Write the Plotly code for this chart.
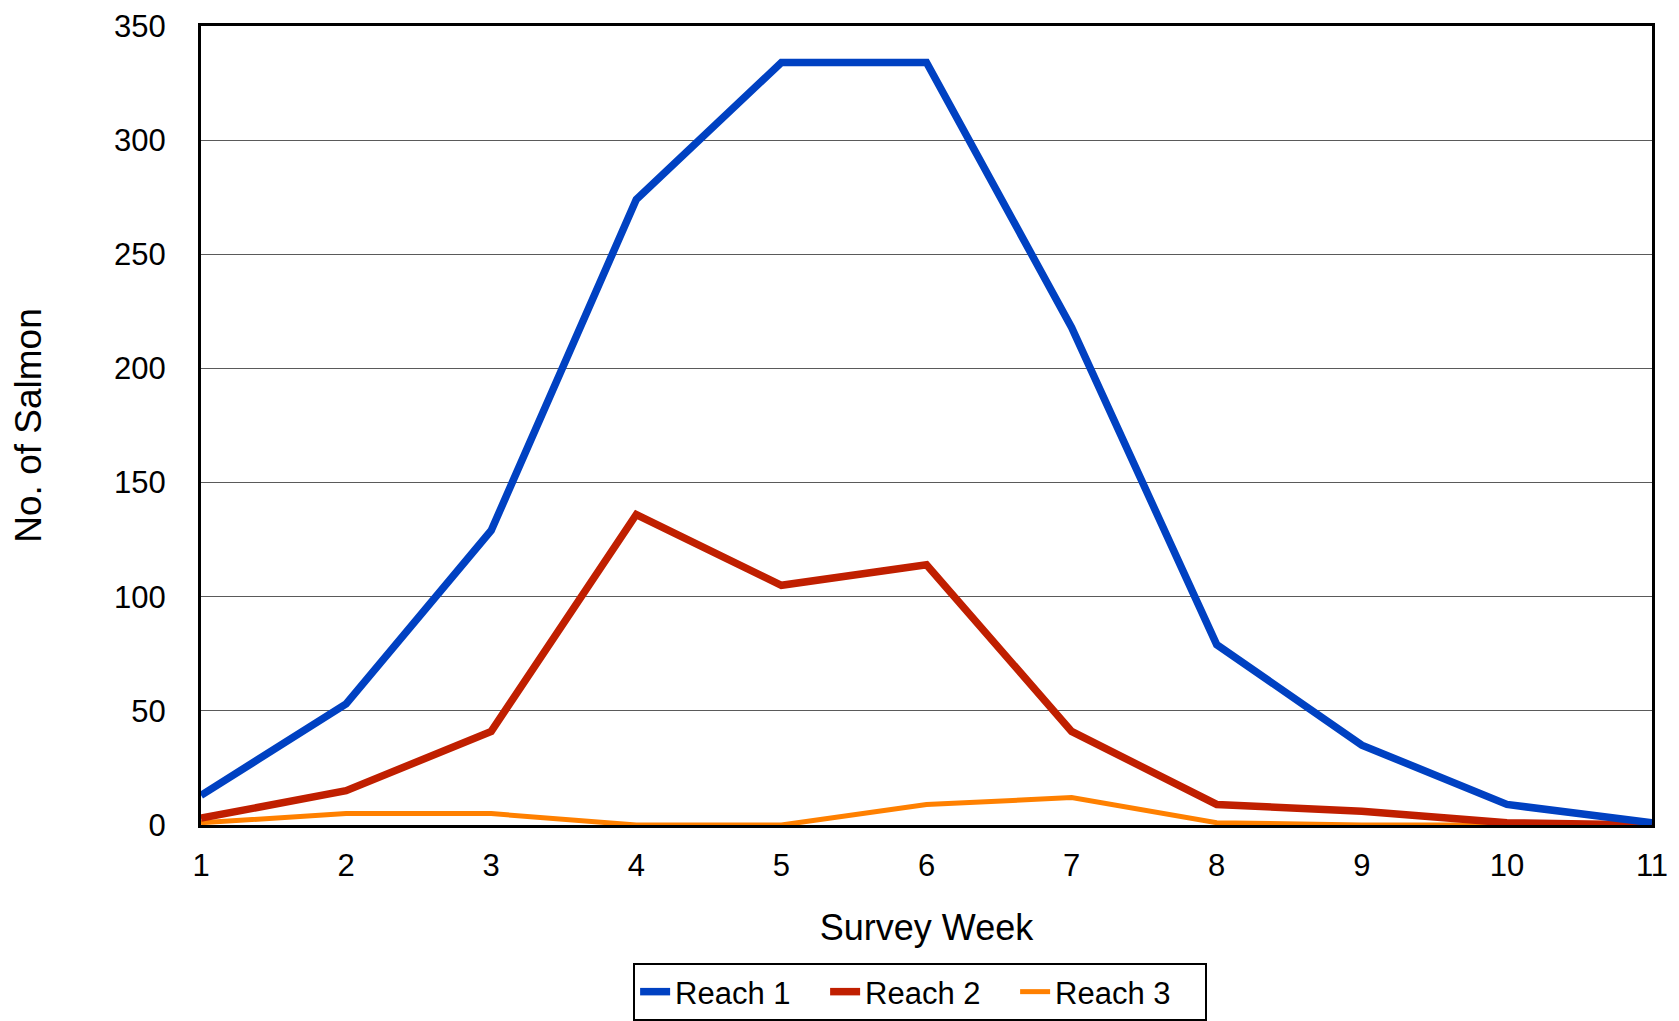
import plotly.graph_objects as go

weeks = [1, 2, 3, 4, 5, 6, 7, 8, 9, 10, 11]
reach1 = [13, 53, 129, 274, 334, 334, 218, 79, 35, 9, 1]
reach2 = [3, 15, 41, 136, 105, 114, 41, 9, 6, 1, 0]
reach3 = [1, 5, 5, 0, 0, 9, 12, 1, 0, 0, 0]

series_names = ["Reach 1", "Reach 2", "Reach 3"]
series_values = [reach1, reach2, reach3]
series_colors = ["#0041C2", "#C01F00", "#FF8000"]
series_widths = [7.5, 7.5, 5]

FONT = "Liberation Sans, Arial, sans-serif"

fig = go.Figure()
# draw Reach 3 first so Reach 1 is on top, keep legend order 1,2,3
for i in [2, 1, 0]:
    fig.add_trace(go.Scatter(
        x=weeks, y=series_values[i], mode="lines", name=series_names[i],
        line=dict(color=series_colors[i], width=series_widths[i]),
        legendrank=i + 1,
    ))

fig.update_layout(
    width=1679, height=1021,
    paper_bgcolor="white", plot_bgcolor="white",
    margin=dict(l=193, r=35, t=18, b=204, autoexpand=False),
    font=dict(family=FONT, color="black", size=31),
    showlegend=True,
    legend=dict(
        orientation="h", xanchor="center", x=0.4956, yanchor="bottom", y=-0.2453,
        bordercolor="black", borderwidth=2, bgcolor="white",
        font=dict(family=FONT, size=31, color="black"),
        entrywidth=145, entrywidthmode="pixels",
        itemwidth=30,
    ),
    xaxis=dict(
        range=[1, 11], tickmode="linear", tick0=1, dtick=1,
        showgrid=False, zeroline=False, automargin=False,
        showline=True, linecolor="black", linewidth=3, mirror=True,
        ticks="", ticklabelstandoff=11, ticklabeloverflow="allow",
        tickfont=dict(family=FONT, size=31, color="black"),
        title=dict(text="Survey Week", font=dict(family=FONT, size=36, color="black"), standoff=33),
    ),
    yaxis=dict(
        range=[0, 350], tickmode="linear", tick0=0, dtick=50,
        showgrid=True, gridcolor="#5a5a5a", gridwidth=1.2,
        zeroline=False, automargin=False,
        showline=True, linecolor="black", linewidth=3, mirror=True,
        ticks="", ticklabelstandoff=26, ticklabeloverflow="allow",
        tickfont=dict(family=FONT, size=31, color="black"),
        title=dict(text="No. of Salmon", font=dict(family=FONT, size=37, color="black"), standoff=63),
    ),
)

fig.write_html("out.html")
